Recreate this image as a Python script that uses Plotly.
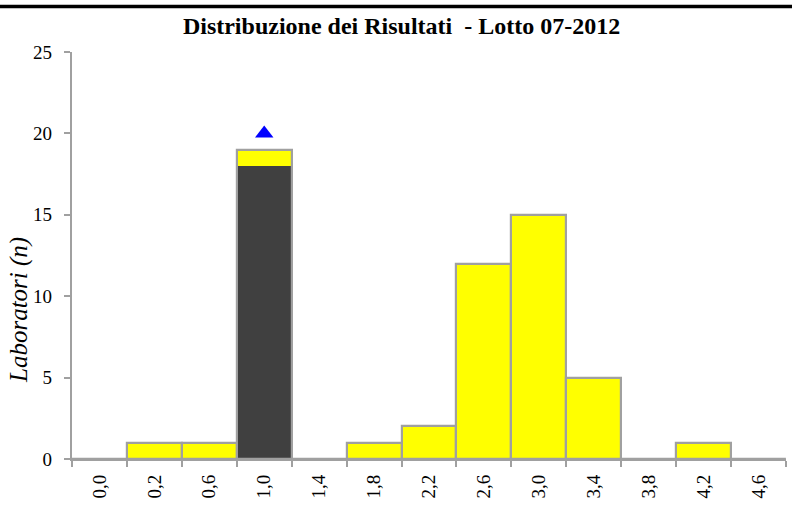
import plotly.graph_objects as go

categories = ["0,0", "0,2", "0,6", "1,0", "1,4", "1,8", "2,2", "2,6", "3,0", "3,4", "3,8", "4,2", "4,6"]
counts = [0, 1, 1, 19, 0, 1, 2, 12, 15, 5, 0, 1, 0]
highlight_cat = ["1,0"]
highlight_val = [18]
marker_cat = ["1,0"]
marker_val = [20]
y_ticks = [0, 5, 10, 15, 20, 25]

GRAY = "#A0A0A0"
FONT = "Liberation Serif"

fig = go.Figure()
fig.add_trace(go.Bar(x=categories, y=counts, marker=dict(color="#FFFF00", line=dict(width=0)),
                     showlegend=False, hoverinfo="skip"))
fig.add_trace(go.Bar(x=highlight_cat, y=highlight_val, marker=dict(color="#404040", line=dict(width=0)),
                     showlegend=False, hoverinfo="skip"))
fig.add_trace(go.Bar(x=categories, y=counts,
                     marker=dict(color="rgba(0,0,0,0)", line=dict(color=GRAY, width=2.2)),
                     showlegend=False, hoverinfo="skip"))
fig.add_trace(go.Scatter(x=marker_cat, y=marker_val, mode="markers",
                         marker=dict(symbol="triangle-up", size=16, color="#0000FF"),
                         showlegend=False, hoverinfo="skip"))

fig.update_layout(
    width=792, height=513,
    margin=dict(l=72, r=6, t=52, b=54, autoexpand=False),
    paper_bgcolor="white", plot_bgcolor="white",
    barmode="overlay", bargap=0,
    font=dict(family=FONT, color="black", size=19),
    title=dict(text="<b>Distribuzione dei Risultati  - Lotto 07-2012</b>",
               x=0.507, xref="container", y=1 - 26 / 513, yref="container",
               xanchor="center", yanchor="middle",
               font=dict(family=FONT, size=24, color="black")),
    xaxis=dict(type="category", categoryorder="array", categoryarray=categories,
               tickson="boundaries", ticks="outside", ticklen=6, tickwidth=2, tickcolor=GRAY,
               showline=True, linecolor=GRAY, linewidth=2.2, showgrid=False, zeroline=False,
               tickangle=-90, ticklabelstandoff=6,
               tickfont=dict(family=FONT, size=19, color="black")),
    yaxis=dict(range=[0, 25], tickvals=y_ticks, ticks="outside", ticklen=6, tickwidth=2,
               tickcolor=GRAY, showline=True, linecolor=GRAY, linewidth=2.2,
               showgrid=False, zeroline=False, ticklabelstandoff=8,
               tickfont=dict(family=FONT, size=19, color="black")),
    shapes=[dict(type="line", xref="paper", yref="paper", x0=-0.2, x1=1.2,
                 y0=(459 - 6.5) / 407, y1=(459 - 6.5) / 407,
                 line=dict(color="black", width=3.5))],
    annotations=[dict(text="<i>Laboratori (n)</i>", xref="paper", yref="paper",
                      x=(19 - 72) / 713.5, y=(459 - 310) / 407, textangle=-90,
                      showarrow=False, xanchor="center", yanchor="middle",
                      font=dict(family=FONT, size=25, color="black"))],
)

fig.write_html("out.html", config={"displayModeBar": False},
               post_script="document.body.style.margin='0';")
